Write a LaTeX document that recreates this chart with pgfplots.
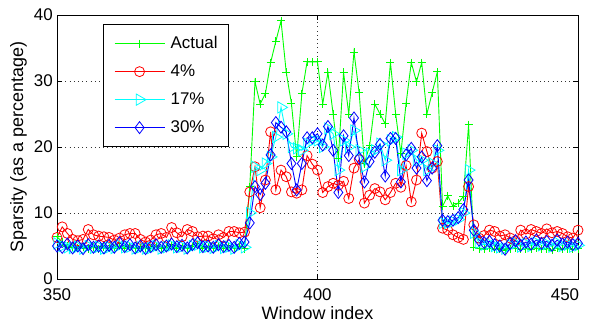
\documentclass[border=0pt]{standalone}
\usepackage{pgfplots}
\pgfplotsset{compat=1.18}
\usepackage{pgfplotstable}
\usepackage{fontspec}
\setmainfont{Liberation Sans}

\definecolor{cActual}{rgb}{0,1,0}
\definecolor{cFour}{rgb}{1,0,0}
\definecolor{cSeventeen}{rgb}{0,1,1}
\definecolor{cThirty}{rgb}{0,0,1}

% sparsity per window: actual and at three sampling levels
\pgfplotstableread{
x   act   p4    p17   p30
350 6.4   6.3   5.4   5.0
351 5.6   7.9   5.0   4.8
352 5.0   6.9   4.8   5.3
353 4.8   6.0   4.7   4.7
354 4.7   5.8   4.9   5.0
355 4.9   6.0   4.6   4.6
356 4.6   7.5   5.0   5.2
357 4.8   6.7   4.7   4.8
358 4.6   6.5   4.9   5.0
359 4.9   6.4   4.6   4.7
360 4.7   6.3   4.8   5.1
361 4.6   5.9   4.7   4.8
362 5.0   6.2   5.1   5.5
363 4.7   6.7   4.8   4.9
364 4.9   6.9   4.9   5.2
365 4.6   6.9   4.6   4.7
366 4.8   6.0   4.8   5.0
367 4.6   5.6   4.6   4.6
368 4.7   5.9   4.7   4.9
369 4.9   6.7   5.0   5.2
370 4.6   6.9   4.6   4.8
371 4.8   6.3   4.8   5.0
372 5.0   7.8   5.1   5.3
373 4.7   7.0   4.8   4.9
374 4.8   6.4   4.9   5.1
375 4.6   7.5   4.6   4.7
376 4.9   7.2   5.0   5.2
377 5.1   6.4   5.2   5.5
378 4.7   6.5   4.8   4.9
379 4.8   6.5   4.9   5.0
380 4.6   6.1   4.7   4.8
381 4.9   6.7   5.0   5.2
382 4.7   6.3   4.7   4.9
383 4.8   7.2   4.9   5.1
384 4.6   7.2   4.6   4.8
385 5.0   7.0   5.1   5.4
386 4.6   7.1   4.8   5.6
387 14.0  13.2  10.0  8.5
388 29.9  17.0  17.0  14.0
389 26.5  10.8  16.5  12.8
390 28.1  15.0  17.5  14.5
391 32.8  22.3  18.5  18.8
392 36.0  13.5  21.5  23.7
393 39.1  16.5  26.0  23.0
394 31.3  15.5  22.0  22.3
395 26.6  13.2  20.0  17.5
396 18.5  13.0  19.8  13.5
397 28.1  13.5  19.5  17.5
398 32.9  18.7  20.5  21.4
399 32.9  17.4  21.0  21.4
400 32.9  16.5  21.0  22.0
401 26.5  13.1  20.0  20.3
402 31.3  14.0  22.8  23.1
403 25.0  14.5  22.0  19.5
404 18.3  14.2  16.5  13.1
405 31.3  14.8  21.0  21.7
406 25.0  12.2  20.0  18.7
407 34.4  16.8  22.5  24.4
408 28.2  18.1  19.5  18.3
409 17.5  11.5  17.0  14.7
410 20.2  12.7  19.0  17.8
411 26.5  13.7  19.5  19.2
412 25.0  13.2  20.5  20.4
413 23.5  12.0  18.0  15.6
414 32.8  13.1  21.0  21.3
415 25.0  14.5  21.5  21.3
416 19.0  13.9  16.5  14.7
417 26.6  17.2  19.0  18.8
418 32.8  11.7  19.5  19.8
419 29.9  15.0  18.0  16.8
420 32.8  22.1  18.0  18.5
421 25.0  19.3  16.5  14.9
422 28.2  16.8  17.5  16.8
423 31.4  17.8  19.5  20.2
424 11.0  7.7   8.5   8.9
425 12.6  7.4   8.5   8.7
426 11.0  6.7   8.7   8.9
427 11.5  6.3   9.0   9.3
428 12.5  6.0   10.0  10.5
429 23.4  14.0  16.5  15.0
430 4.8   8.2   7.0   7.4
431 4.6   6.2   5.5   5.9
432 4.5   6.6   5.2   5.5
433 4.7   7.4   5.3   5.7
434 4.5   7.2   5.0   5.2
435 4.6   6.5   4.8   5.0
436 4.4   6.7   4.6   4.5
437 4.6   6.2   5.1   5.4
438 4.7   5.8   5.4   5.8
439 4.5   7.4   4.9   5.1
440 4.6   6.8   5.3   5.6
441 4.5   7.5   5.0   5.3
442 4.7   7.2   5.5   5.9
443 4.5   6.9   5.1   5.4
444 4.6   7.6   5.3   5.7
445 4.4   7.0   4.9   5.1
446 4.7   7.2   5.5   5.9
447 4.5   6.9   5.0   5.3
448 4.6   6.4   5.2   5.6
449 4.5   6.2   4.9   5.2
450 4.6   7.4   5.1   5.4
}\sparsity

% legend sample: a 50bp line in the series colour with one mark at its middle
\newcommand{\sample}[2]{%
  \draw[#1, line width=0.9bp] (0bp,0bp) -- (50bp,0bp);
  \draw[#1, line width=0.8bp, solid] plot[#2] coordinates {(25bp,0bp)};}

\begin{document}
\begin{tikzpicture}
\begin{axis}[
  at={(0,0)}, anchor=south west,
  width=521bp, height=264bp, scale only axis,
  clip=false,
  xmin=350, xmax=450, ymin=0, ymax=40,
  xtick={350,400}, ytick={0,10,20,30,40},
  extra x ticks={450},
  extra x tick style={grid=none, xticklabel style={xshift=-13bp}},
  tick align=inside, major tick length=5bp,
  xtick pos=both, ytick pos=both,
  xmajorgrids, ymajorgrids,
  grid style={black!80, line width=0.5bp, dash pattern=on 0.6bp off 3.6bp},
  axis line style={black, line width=0.8bp},
  tick style={black, line width=0.8bp},
  /pgf/number format/assume math mode=true,
  /pgf/number format/1000 sep={},
  ticklabel style={font=\fontsize{17}{20}\selectfont, inner sep=0.5bp},
  xticklabel style={yshift=-9bp},
  yticklabel style={xshift=-3.5bp},
  label style={font=\fontsize{18}{21}\selectfont, inner sep=0pt},
  xlabel={Window index},
  xlabel style={at={(axis description cs:0.5,0)}, anchor=north, yshift=-27bp},
  ylabel={Sparsity (as a percentage)},
  ylabel style={at={(axis description cs:0,0.5)}, anchor=south, yshift=30bp},
  legend cell align=left,
  legend style={
    at={(0.0877,0.965)}, anchor=north west,
    draw=black, line width=0.8bp, fill=white,
    font=\fontsize{17}{20}\selectfont,
    inner xsep=11bp, inner ysep=11bp,
    row sep=12bp, column sep=5.6bp,
    nodes={inner sep=0pt, text height=12.5bp, text depth=3.5bp},
  },
]
\addplot[color=cActual, line width=0.9bp, mark=+, mark size=4bp,
  mark options={solid, line width=0.9bp},
  legend image code/.code={\sample{cActual}{mark=+, mark size=4bp}}]
  table[x=x, y=act] {\sparsity};
\addlegendentry{Actual}
\addplot[color=cFour, line width=0.9bp, mark=o, mark size=5bp,
  mark options={solid, line width=0.8bp},
  legend image code/.code={\sample{cFour}{mark=o, mark size=5bp}}]
  table[x=x, y=p4] {\sparsity};
\addlegendentry{4\%}
\addplot[color=cSeventeen, line width=0.9bp, mark=triangle, mark size=6.5bp,
  mark options={solid, line width=0.8bp, rotate=-90},
  legend image code/.code={\sample{cSeventeen}{mark=triangle, mark size=6.5bp, mark options={rotate=-90}}}]
  table[x=x, y=p17] {\sparsity};
\addlegendentry{17\%}
\addplot[color=cThirty, line width=0.9bp, mark=diamond, mark size=6bp,
  mark options={solid, line width=0.8bp},
  legend image code/.code={\sample{cThirty}{mark=diamond, mark size=6bp}}]
  table[x=x, y=p30] {\sparsity};
\addlegendentry{30\%}
\end{axis}
\pgfresetboundingbox
\path (-57bp,-44bp) rectangle (536bp,279bp);
\end{tikzpicture}
\end{document}
